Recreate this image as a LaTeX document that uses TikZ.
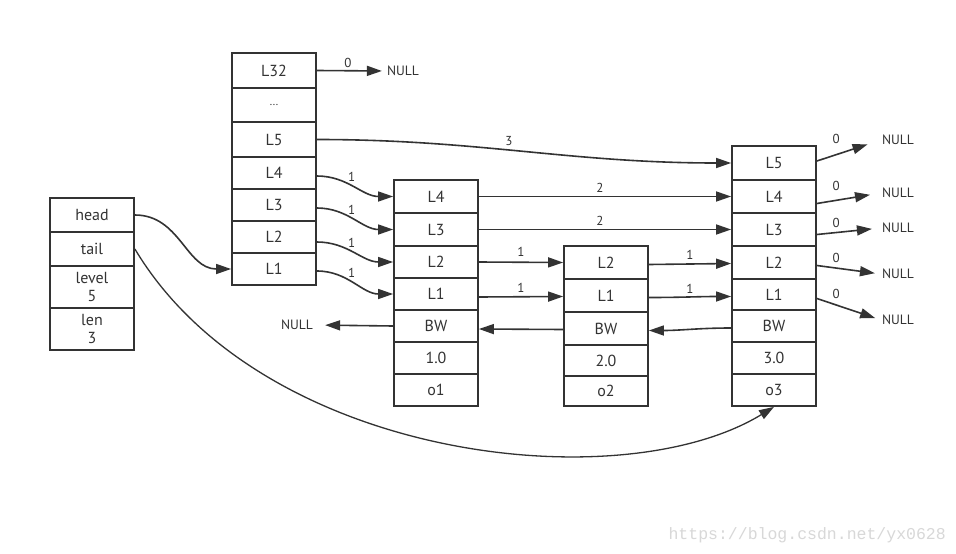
\documentclass[tikz,border=0pt]{standalone}
\usepackage{fontspec}
\setmainfont{PT Sans}
\newfontfamily\wmfont{Liberation Mono}
\usetikzlibrary{arrows.meta}
\definecolor{ink}{HTML}{333333}
\definecolor{wmgray}{HTML}{D8D8D8}
\begin{document}
\begin{tikzpicture}[x=1pt,y=-1pt,
  cell/.style={draw=ink, line width=1.8pt, minimum width=84pt, inner sep=0pt,
    text=ink, font=\fontsize{16}{18}\selectfont, align=center},
  conn/.style={draw=ink, line width=1.6pt, -{Triangle[length=15pt,width=10pt]}},
  lab/.style={text=ink, font=\fontsize{13}{15}\selectfont, inner sep=1pt},
  nul/.style={text=ink, font=\fontsize{13.5}{15}\selectfont, inner sep=1pt}]
\fill[white] (0,0) rectangle (956,554);
\useasboundingbox (0,0) rectangle (956,554);

% list header
\node[cell, minimum height=34pt] (head)  at (92,215) {head};
\node[cell, minimum height=34pt] (tail)  at (92,249) {tail};
\node[cell, minimum height=42pt] (level) at (92,287) {level\\5};
\node[cell, minimum height=42pt] (len)   at (92,329) {len\\3};

% header node
\node[cell, minimum height=35pt] (hL32) at (274,70.5) {L32};
\node[cell, minimum height=34pt, font=\fontsize{11}{13}\selectfont] (hdots) at (274,105) {...};
\node[cell, minimum height=35pt] (hL5) at (274,139.5) {L5};
\node[cell, minimum height=32pt] (hL4) at (274,173) {L4};
\node[cell, minimum height=32pt] (hL3) at (274,205) {L3};
\node[cell, minimum height=32pt] (hL2) at (274,237) {L2};
\node[cell, minimum height=32pt] (hL1) at (274,269) {L1};

% node o1
\node[cell, minimum height=33pt] (aL4) at (436,196.5) {L4};
\node[cell, minimum height=33pt] (aL3) at (436,229.5) {L3};
\node[cell, minimum height=32pt] (aL2) at (436,262) {L2};
\node[cell, minimum height=32pt] (aL1) at (436,294) {L1};
\node[cell, minimum height=32pt] (aBW) at (436,326) {BW};
\node[cell, minimum height=32pt] (aS)  at (436,358) {1.0};
\node[cell, minimum height=32pt] (aO)  at (436,390) {o1};

% node o2
\node[cell, minimum height=33pt] (bL2) at (606,262.5) {L2};
\node[cell, minimum height=33pt] (bL1) at (606,295.5) {L1};
\node[cell, minimum height=33pt] (bBW) at (606,328.5) {BW};
\node[cell, minimum height=31pt] (bS)  at (606,360.5) {2.0};
\node[cell, minimum height=30pt] (bO)  at (606,391) {o2};

% node o3
\node[cell, minimum height=34pt] (cL5) at (774,163) {L5};
\node[cell, minimum height=33pt] (cL4) at (774,196.5) {L4};
\node[cell, minimum height=33pt] (cL3) at (774,229.5) {L3};
\node[cell, minimum height=33pt] (cL2) at (774,262.5) {L2};
\node[cell, minimum height=31pt] (cL1) at (774,294.5) {L1};
\node[cell, minimum height=32pt] (cBW) at (774,326) {BW};
\node[cell, minimum height=32pt] (cS)  at (774,358) {3.0};
\node[cell, minimum height=32pt] (cO)  at (774,390) {o3};

% NULL texts
\node[nul] (n32) at (403,71) {NULL};
\node[nul] (nbw) at (297,325) {NULL};
\node[nul] (n5) at (898,140) {NULL};
\node[nul] (n4) at (898,193) {NULL};
\node[nul] (n3) at (898,228) {NULL};
\node[nul] (n2) at (898,274) {NULL};
\node[nul] (n1) at (898,320) {NULL};

% connectors
\draw[conn] (head.east) .. controls +(45,0) and +(-45,0) .. (hL1.west);
\draw[conn, line width=1.3pt] (tail.east) .. controls +(126,211) and +(-154,94) .. (cO.south);

\draw[conn, shorten >=4pt] (hL32.east) -- node[lab, pos=0.45, above=1pt] {0} (n32.west);
\draw[conn] (hL5.east) to[out=0,in=180] node[lab, pos=0.46, above=2pt] {3} (cL5.west);
\draw[conn] ([yshift=-3pt]hL4.east) to[out=0,in=180] node[lab, pos=0.45, above=1pt] {1} (aL4.west);
\draw[conn] ([yshift=-3pt]hL3.east) to[out=0,in=180] node[lab, pos=0.45, above=1pt] {1} (aL3.west);
\draw[conn] ([yshift=-5pt]hL2.east) to[out=0,in=180] node[lab, pos=0.45, above=1pt] {1} (aL2.west);
\draw[conn] ([yshift=-2pt]hL1.east) to[out=0,in=180] node[lab, pos=0.45, above=1pt] {1} (aL1.west);

\draw[conn] (aL4.east) -- node[lab, pos=0.48, above=2pt] {2} (cL4.west);
\draw[conn] (aL3.east) -- node[lab, pos=0.48, above=2pt] {2} (cL3.west);
\draw[conn] (aL2.east) -- node[lab, above=4pt] {1} (bL2.west);
\draw[conn] ([yshift=-3pt]aL1.east) -- node[lab, above=2pt] {1} ([yshift=-1pt]bL1.west);
\draw[conn] ([yshift=-2pt]bL2.east) -- node[lab, above=3pt] {1} ([yshift=-1pt]cL2.west);
\draw[conn] ([yshift=-2pt]bL1.east) to[out=0,in=180] node[lab, above=2pt] {1} ([yshift=-2pt]cL1.west);

\draw[conn] ([yshift=-2pt]cBW.west) to[out=180,in=0] ([yshift=-2pt]bBW.east);
\draw[conn] ([yshift=-1pt]bBW.west) -- ([yshift=-3pt]aBW.east);
\draw[conn, shorten >=11pt] (aBW.west) -- (nbw.east);

\draw[conn, shorten >=14pt] ([yshift=2pt]cL5.east) -- node[lab, pos=0.3, above=9pt] {0} (n5.west);
\draw[conn, shorten >=11pt] ([yshift=-7pt]cL4.east) -- node[lab, pos=0.3, above=8pt] {0} (n4.west);
\draw[conn, shorten >=9pt] ([yshift=-5pt]cL3.east) -- node[lab, pos=0.3, above=3pt] {0} (n3.west);
\draw[conn, shorten >=6pt] ([yshift=-3pt]cL2.east) -- node[lab, pos=0.3, above=4pt] {0} (n2.west);
\draw[conn, shorten >=6pt] ([yshift=-4pt]cL1.east) -- node[lab, pos=0.3, above=4pt] {0} (n1.west);

% watermark
\node[font=\wmfont\fontsize{16.5}{18}\selectfont, text=wmgray, anchor=east, inner sep=0pt] (wm) at (946,535) {https://blog.csdn.net/yx0628};
\end{tikzpicture}
\end{document}
